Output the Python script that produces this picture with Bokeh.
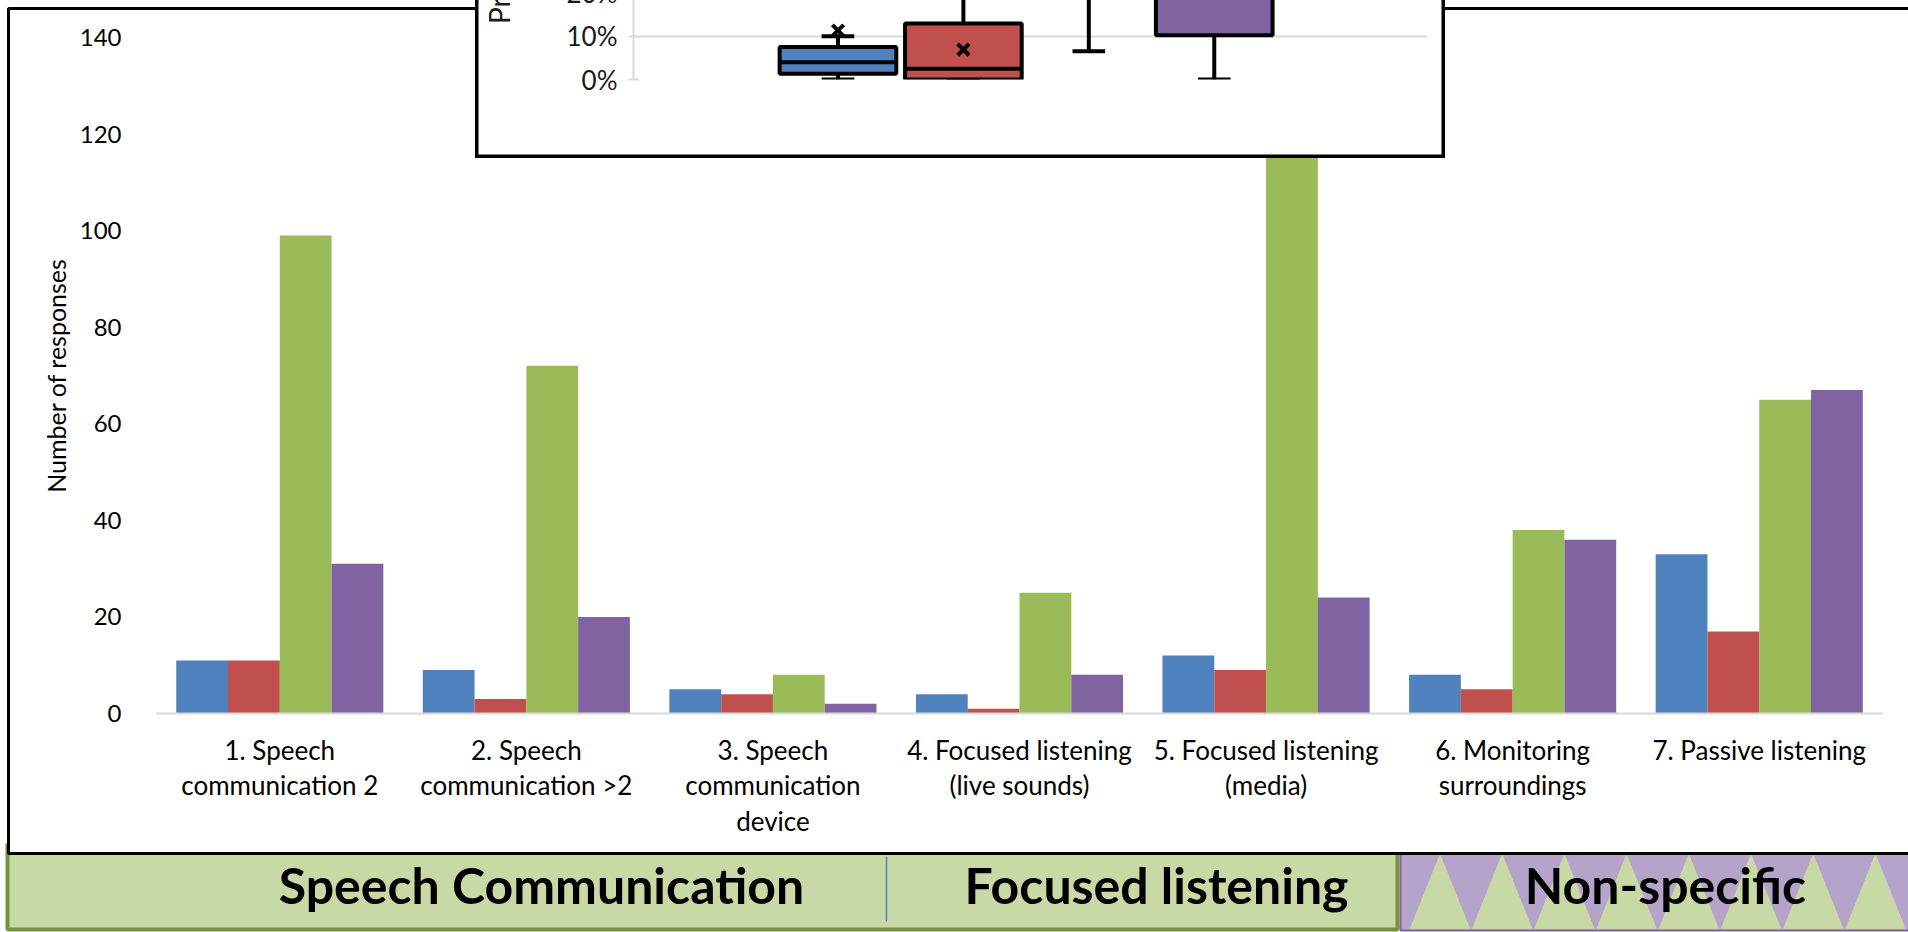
from bokeh.plotting import figure
from bokeh.layouts import column
from bokeh.models import (ColumnDataSource, FactorRange, Range1d, FixedTicker,
                          NumeralTickFormatter)
from bokeh.transform import dodge
from bokeh.core.properties import value
from bokeh.embed import file_html
from bokeh.resources import INLINE

# ---------------------------------------------------------------- data
categories = [
    "1. Speech\ncommunication 2",
    "2. Speech\ncommunication >2",
    "3. Speech\ncommunication\ndevice",
    "4. Focused listening\n(live sounds)",
    "5. Focused listening\n(media)",
    "6. Monitoring\nsurroundings",
    "7. Passive listening",
]
blue_counts = [11, 9, 5, 4, 12, 8, 33]
red_counts = [11, 3, 4, 1, 9, 5, 17]
green_counts = [99, 72, 8, 25, 137, 38, 65]
purple_counts = [31, 20, 2, 8, 24, 36, 67]
count_ticks = [0, 20, 40, 60, 80, 100, 120, 140]

series_colors = ["#4F81BD", "#C0504D", "#9BBB59", "#8064A2"]

# box-plot summary (share of responses) for the four series
box_lower = [0.0, 0.0, 0.065, 0.0]
box_q1 = [0.013, 0.0, 0.30, 0.102]
box_median = [0.040, 0.025, 0.45, 0.25]
box_q3 = [0.075, 0.129, 0.62, 0.40]
box_upper = [0.100, 0.32, 0.95, 0.70]
box_mean = [0.113, 0.069, 0.47, 0.27]
share_ticks = [0.0, 0.1, 0.2]
share_max = 0.937

band_labels = ["Speech Communication", "Focused listening", "Non-specific"]

# ---------------------------------------------------------------- layout constants
W, H = 1908, 932
FONT = "Lato"
CHART_H = 852
INSET_LEFT, INSET_W = 475, 970
INSET_CUT = 337                  # part of the inset that sits above the page
INSET_H = 158 + INSET_CUT


def base_figure(**kw):
    return figure(output_backend="svg", toolbar_location=None, frame_align=False, **kw)


# ---------------------------------------------------------------- background: chart frame + group bands
bg = base_figure(width=W, height=H, x_range=Range1d(0, W), y_range=Range1d(H, 0),
                 x_axis_location=None, y_axis_location=None, min_border=0,
                 background_fill_color="white", border_fill_color="white",
                 outline_line_color=None)
bg.grid.visible = False

BAND_TOP, BAND_BOT = 853, 929
LIGHT_GREEN, OLIVE = "#C9D9A6", "#76923C"
LIGHT_PURPLE, PURPLE = "#B5A4C9", "#8064A2"

# green band (speech + focused listening)
bg.quad(left=[6], right=[1397], top=[BAND_TOP], bottom=[BAND_BOT],
        fill_color=LIGHT_GREEN, line_color=None)
bg.line(x=[7, 7, 1397, 1397], y=[843, BAND_BOT, BAND_BOT, BAND_TOP],
        line_color=OLIVE, line_width=4)
bg.line(x=[886, 886], y=[856, 921], line_color="#4F81BD", line_width=1.5)

# purple band with upward green triangles
bg.quad(left=[1400], right=[W + 5], top=[BAND_TOP], bottom=[BAND_BOT + 1],
        fill_color=LIGHT_PURPLE, line_color=None)
tri_xs, tri_ys = [], []
for k in range(8):
    x0 = 1409 + k * 62.2
    tri_xs.append([x0, x0 + 30.5, x0 + 61])
    tri_ys.append([BAND_BOT, BAND_TOP, BAND_BOT])
bg.patches(xs=tri_xs, ys=tri_ys, fill_color=LIGHT_GREEN, line_color=None)
bg.line(x=[1400, 1400, W + 5], y=[BAND_TOP, BAND_BOT + 1, BAND_BOT + 1],
        line_color=PURPLE, line_width=2)

# chart-area border
bg.line(x=[W + 10, 8, 8, W + 10], y=[8, 8, 853, 853], line_color="black", line_width=3)

bg.text(x=[541, 1156, 1665], y=[884, 884, 884], text=band_labels,
        text_font=value(FONT), text_font_style="bold", text_font_size="50px",
        text_color="black", text_align="center", text_baseline="alphabetic")

# ---------------------------------------------------------------- main grouped bar chart
source = ColumnDataSource(dict(cat=categories, blue=blue_counts, red=red_counts,
                               green=green_counts, purple=purple_counts))

chart = base_figure(width=W, height=CHART_H,
                    x_range=FactorRange(factors=categories, range_padding=0),
                    y_range=Range1d(0, 140),
                    min_border_left=156, min_border_right=26,
                    min_border_top=37, min_border_bottom=139,
                    background_fill_color=None, border_fill_color=None,
                    outline_line_color=None)

offsets = [-0.315, -0.105, 0.105, 0.315]
for col, color, off in zip(["blue", "red", "green", "purple"], series_colors, offsets):
    chart.vbar(x=dodge("cat", off, range=chart.x_range), top=col, bottom=0,
               width=0.21, source=source, fill_color=color, line_color=None)

chart.grid.visible = False
chart.yaxis.ticker = FixedTicker(ticks=count_ticks)
chart.yaxis.axis_line_color = None
chart.yaxis.major_tick_line_color = None
chart.yaxis.minor_tick_line_color = None
chart.yaxis.major_label_standoff = 29
chart.yaxis.axis_label = "Number of responses"
chart.yaxis.axis_label_standoff = 6

chart.xaxis.axis_line_color = "#D9D9D9"
chart.xaxis.axis_line_width = 2
chart.xaxis.major_tick_line_color = None
chart.xaxis.minor_tick_line_color = None
chart.xaxis.major_label_standoff = 14
chart.xaxis.major_label_orientation = "horizontal"
chart.xaxis.major_label_text_line_height = 1.12

for ax in chart.axis:
    ax.major_label_text_font = FONT
    ax.major_label_text_color = "black"
    ax.axis_label_text_font = FONT
    ax.axis_label_text_font_style = "normal"
    ax.axis_label_text_font_size = "25px"
    ax.axis_label_text_color = "black"
chart.yaxis.major_label_text_font_size = "24px"
chart.xaxis.major_label_text_font_size = "26px"

# ---------------------------------------------------------------- inset box plot
inset_bg = base_figure(width=INSET_W, height=INSET_H, x_range=Range1d(0, 1), y_range=Range1d(0, 1),
                       x_axis_location=None, y_axis_location=None, min_border=0,
                       background_fill_color="white", border_fill_color="white",
                       outline_line_color="black", outline_line_width=6)
inset_bg.grid.visible = False

inset = base_figure(width=INSET_W, height=INSET_H,
                    x_range=Range1d(-1.63, 4.70), y_range=Range1d(0, share_max),
                    x_axis_location=None,
                    min_border_left=158, min_border_right=18,
                    min_border_top=10, min_border_bottom=79,
                    background_fill_color=None, border_fill_color=None,
                    outline_line_color=None)

BOX_W, CAP_W = 0.93, 0.26
box_x = list(range(len(box_q1)))
box_src = ColumnDataSource(dict(
    x=box_x, lower=box_lower, q1=box_q1, median=box_median, q3=box_q3,
    upper=box_upper, mean=box_mean, color=series_colors,
    x0=[x - BOX_W / 2 for x in box_x], x1=[x + BOX_W / 2 for x in box_x],
    c0=[x - CAP_W / 2 for x in box_x], c1=[x + CAP_W / 2 for x in box_x],
))

inset.segment(x0="x", y0="q3", x1="x", y1="upper", source=box_src,
              line_color="black", line_width=4)
inset.segment(x0="x", y0="lower", x1="x", y1="q1", source=box_src,
              line_color="black", line_width=4)
inset.segment(x0="c0", y0="upper", x1="c1", y1="upper", source=box_src,
              line_color="black", line_width=4)
inset.segment(x0="c0", y0="lower", x1="c1", y1="lower", source=box_src,
              line_color="black", line_width=4)
inset.vbar(x="x", width=BOX_W, bottom="q1", top="q3", source=box_src,
           fill_color="color", line_color="black", line_width=4)
inset.segment(x0="x0", y0="median", x1="x1", y1="median", source=box_src,
              line_color="black", line_width=4)
inset.scatter(x="x", y="mean", source=box_src, marker="x", size=16,
              line_color="black", line_width=4)

inset.xgrid.visible = False
inset.ygrid.grid_line_color = "#D9D9D9"
inset.ygrid.grid_line_width = 2
inset.yaxis.ticker = FixedTicker(ticks=share_ticks)
inset.yaxis.formatter = NumeralTickFormatter(format="0%")
inset.yaxis.axis_line_color = "#D9D9D9"
inset.yaxis.axis_line_width = 2
inset.yaxis.major_tick_line_color = "#D9D9D9"
inset.yaxis.major_tick_line_width = 2
inset.yaxis.major_tick_in = 5
inset.yaxis.major_tick_out = 5
inset.yaxis.minor_tick_line_color = None
inset.yaxis.major_label_standoff = 11
inset.yaxis.major_label_text_font = FONT
inset.yaxis.major_label_text_font_size = "26px"
inset.yaxis.major_label_text_color = "#1a1a1a"
inset.yaxis.axis_label = "Proportion of responses"
inset.yaxis.axis_label_standoff = 48
inset.yaxis.axis_label_text_font = FONT
inset.yaxis.axis_label_text_font_style = "normal"
inset.yaxis.axis_label_text_font_size = "28px"
inset.yaxis.axis_label_text_color = "#1a1a1a"

# ---------------------------------------------------------------- stack the layers
# every layer has a zero outer height except the last, so all share the page origin
bg.margin = (0, 0, -H, 0)
chart.margin = (0, 0, -CHART_H, 0)
inset_bg.margin = (-INSET_CUT, 0, INSET_CUT - INSET_H, INSET_LEFT)
inset.margin = (-INSET_CUT, 0, H + INSET_CUT - INSET_H, INSET_LEFT)

page = column(bg, chart, inset_bg, inset, spacing=0)

with open("out.html", "w") as f:
    f.write(file_html(page, INLINE))
